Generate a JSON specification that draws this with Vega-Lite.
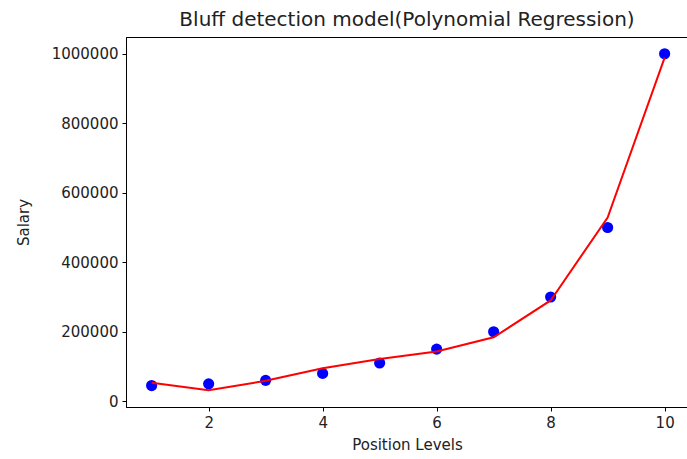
{
  "$schema": "https://vega.github.io/schema/vega-lite/v6.json",
  "width": 562,
  "height": 370,
  "autosize": {"type": "none"},
  "padding": {"left": 126, "top": 37, "right": 0, "bottom": 52},
  "background": "white",
  "config": {
    "view": {"stroke": "black", "strokeWidth": 1},
    "font": "DejaVu Sans",
    "axis": {
      "grid": false,
      "domainColor": "black",
      "tickColor": "black",
      "tickSize": 4,
      "labelFont": "DejaVu Sans",
      "labelFontSize": 15,
      "labelColor": "#222222",
      "titleFont": "DejaVu Sans",
      "titleFontSize": 15,
      "titleFontWeight": "normal",
      "titleColor": "#222222"
    }
  },
  "title": {
    "text": "Bluff detection model(Polynomial Regression)",
    "font": "DejaVu Sans",
    "fontSize": 20,
    "fontWeight": "normal",
    "color": "#222222",
    "anchor": "middle",
    "offset": 7
  },
  "data": {
    "values": [
      {"level": 1, "salary": 45000, "predicted": 53357},
      {"level": 2, "salary": 50000, "predicted": 31760},
      {"level": 3, "salary": 60000, "predicted": 58642},
      {"level": 4, "salary": 80000, "predicted": 94633},
      {"level": 5, "salary": 110000, "predicted": 121724},
      {"level": 6, "salary": 150000, "predicted": 143275},
      {"level": 7, "salary": 200000, "predicted": 184004},
      {"level": 8, "salary": 300000, "predicted": 289994},
      {"level": 9, "salary": 500000, "predicted": 528694},
      {"level": 10, "salary": 1000000, "predicted": 988916}
    ]
  },
  "layer": [
    {
      "mark": {"type": "point", "filled": true, "color": "#0000ff", "opacity": 1, "size": 125},
      "encoding": {
        "x": {
          "field": "level",
          "type": "quantitative",
          "scale": {"domain": [0.55, 10.41], "nice": false, "zero": false},
          "axis": {"values": [2, 4, 6, 8, 10], "format": "d", "title": "Position Levels", "titlePadding": 7, "labelPadding": 4}
        },
        "y": {
          "field": "salary",
          "type": "quantitative",
          "scale": {"domain": [-16700, 1048400], "nice": false},
          "axis": {"values": [0, 200000, 400000, 600000, 800000, 1000000], "format": "d", "title": "Salary", "titlePadding": 20, "labelPadding": 4}
        }
      }
    },
    {
      "mark": {"type": "line", "color": "#ff0000", "strokeWidth": 2},
      "encoding": {
        "x": {"field": "level", "type": "quantitative"},
        "y": {"field": "predicted", "type": "quantitative"}
      }
    }
  ]
}
